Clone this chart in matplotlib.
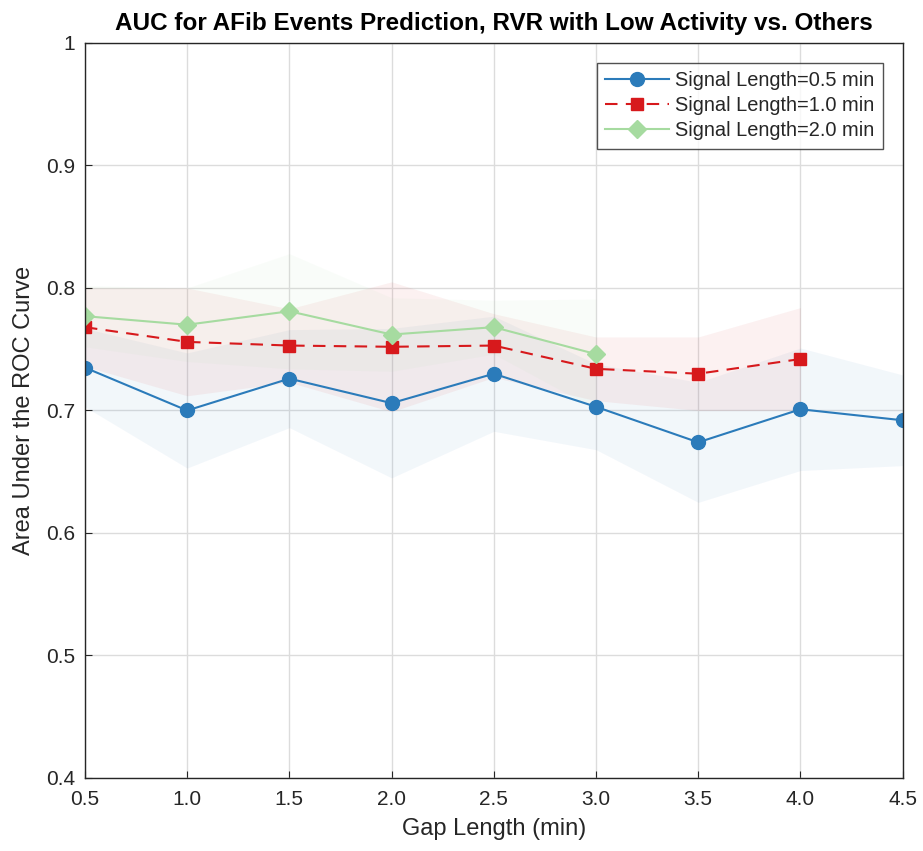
import numpy as np
import matplotlib
matplotlib.use("Agg")
import matplotlib.pyplot as plt

plt.rcParams['font.family'] = ['Liberation Sans', 'DejaVu Sans']

gap = [0.5, 1.0, 1.5, 2.0, 2.5, 3.0, 3.5, 4.0, 4.5]

auc_05 = [0.735, 0.700, 0.726, 0.706, 0.730, 0.703, 0.674, 0.701, 0.692]
std_05 = [0.032, 0.047, 0.040, 0.061, 0.047, 0.035, 0.049, 0.050, 0.037]

auc_10 = [0.768, 0.756, 0.753, 0.752, 0.753, 0.734, 0.730, 0.742]
std_10 = [0.032, 0.044, 0.030, 0.053, 0.026, 0.026, 0.030, 0.042]

auc_20 = [0.777, 0.770, 0.781, 0.762, 0.768, 0.746]
std_20 = [0.025, 0.030, 0.047, 0.030, 0.022, 0.045]

labels = ['Signal Length=0.5 min', 'Signal Length=1.0 min', 'Signal Length=2.0 min']
colors = ['#2b7bba', '#d7191c', '#a6dba0']
markers = ['o', 's', 'D']
styles = ['-', '--', '-']
msizes = [10, 8, 9]

fig = plt.figure(figsize=(9.23, 8.51), dpi=100)
ax = fig.add_axes([0.092, 0.0858, 0.886, 0.8637])

series = [(auc_05, std_05), (auc_10, std_10), (auc_20, std_20)]
for (m, s), lab, c, mk, ls, ms in zip(series, labels, colors, markers, styles, msizes):
    x = np.array(gap[:len(m)])
    m = np.array(m)
    s = np.array(s)
    ax.fill_between(x, m - s, m + s, color=c, alpha=0.06, linewidth=0)
    ax.plot(x, m, linestyle=ls, marker=mk, color=c, label=lab, markersize=ms,
            linewidth=1.5, dashes=(6, 4) if ls == '--' else (None, None))

ax.set_xlim(0.5, 4.5)
ax.set_ylim(0.4, 1.0)
ax.set_xticks(gap)
ax.set_xticklabels([f'{g:.1f}' for g in gap])
ax.set_yticks([0.4, 0.5, 0.6, 0.7, 0.8, 0.9, 1.0])
ax.set_yticklabels(['0.4', '0.5', '0.6', '0.7', '0.8', '0.9', '1'])
ax.grid(True, color='#dcdcdc', linewidth=1)
ax.set_axisbelow(True)
ax.tick_params(labelsize=15, colors='#262626', direction='in', length=5)
ax.tick_params(axis='x', pad=9)
ax.tick_params(axis='y', pad=7)
for sp in ax.spines.values():
    sp.set_color('#262626')
    sp.set_linewidth(1.0)

ax.set_xlabel('Gap Length (min)', fontsize=17, color='#262626', labelpad=6)
ax.set_ylabel('Area Under the ROC Curve', fontsize=17, color='#262626', labelpad=8)
ax.set_title('AUC for AFib Events Prediction, RVR with Low Activity vs. Others',
             fontsize=17.5, fontweight='bold', pad=9)

leg = ax.legend(loc='upper right', fontsize=14.4, frameon=True, fancybox=False,
                edgecolor='#262626', handlelength=3.2, borderaxespad=1.0,
                labelspacing=0.3, handletextpad=0.3, borderpad=0.42)
leg.get_frame().set_linewidth(1.0)
for t in leg.get_texts():
    t.set_color('#262626')

fig.savefig('out.png', dpi=100)
